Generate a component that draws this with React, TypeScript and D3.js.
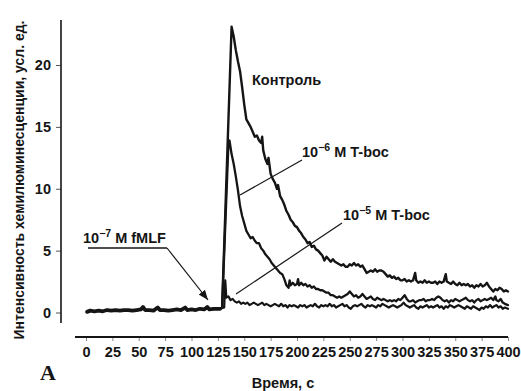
import React, { useEffect, useRef } from 'react';
import * as d3 from 'd3';

type Pt = [number, number];

// Axis ticks
const xTicks = [0, 25, 50, 75, 100, 125, 150, 175, 200, 225, 250, 275, 300, 325, 350, 375, 400];
const yTicks = [0, 5, 10, 15, 20];

// Common pre-stimulus baseline (s, units)
const baseline: Pt[] = [
  [1, 0.05], [4, 0.15], [8, 0.1], [12, 0.15], [16, 0.1], [20, 0.2], [24, 0.15], [28, 0.2],
  [32, 0.15], [36, 0.2], [40, 0.2], [44, 0.15], [48, 0.2], [52, 0.25], [54, 0.45], [56, 0.2],
  [60, 0.2], [64, 0.15], [68, 0.4], [70, 0.2], [74, 0.2], [78, 0.15], [82, 0.2], [86, 0.25],
  [90, 0.2], [94, 0.4], [96, 0.2], [100, 0.25], [104, 0.2], [108, 0.3], [112, 0.25], [115, 0.45],
  [117, 0.25], [121, 0.3], [124, 0.3], [127, 0.3]
];

// Control
const control: Pt[] = [
  [127, 0.3], [129, 0.4], [138, 23.1], [140, 22.3], [142, 21.2], [144, 20.3], [146, 19.5], [148, 18.2],
  [150, 16.8], [152, 15.6], [154, 15.3], [156, 15.0], [158, 14.6], [160, 14.2], [162, 14.3], [164, 13.9],
  [166, 13.7], [167, 14.2], [168, 13.1], [170, 12.4], [172, 12.0], [173, 12.5], [175, 11.2], [177, 10.8],
  [179, 10.5], [181, 10.0], [182, 10.3], [184, 9.4], [186, 9.1], [188, 8.7], [190, 8.2], [192, 7.9],
  [194, 7.5], [196, 7.3], [198, 7.0], [200, 6.9], [202, 6.6], [204, 6.4], [206, 6.1], [208, 5.9],
  [210, 5.6], [212, 5.7], [214, 5.3], [216, 5.4], [218, 5.1], [220, 5.0], [222, 4.8], [224, 4.6],
  [226, 4.2], [228, 4.5], [230, 4.3], [232, 4.1], [234, 4.3], [236, 4.1], [238, 4.0], [240, 3.9],
  [242, 3.8], [244, 3.9], [246, 3.7], [248, 3.7], [250, 3.9], [252, 3.8], [254, 4.0], [256, 3.8],
  [258, 3.9], [260, 3.7], [262, 3.8], [264, 3.5], [266, 3.2], [268, 3.3], [270, 3.4], [272, 3.3],
  [274, 3.5], [276, 3.3], [278, 3.4], [280, 3.4], [282, 3.3], [284, 3.1], [286, 2.9], [288, 3.0],
  [290, 2.8], [292, 2.9], [294, 2.7], [296, 2.8], [298, 2.6], [300, 2.6], [302, 2.7], [304, 2.5],
  [306, 2.6], [308, 2.5], [310, 2.6], [312, 3.2], [313, 2.6], [315, 2.4], [317, 2.5], [319, 2.4],
  [321, 2.6], [323, 2.4], [325, 2.5], [327, 2.4], [329, 2.4], [331, 2.5], [333, 2.3], [335, 2.5],
  [337, 2.4], [339, 2.5], [341, 3.1], [342, 2.5], [344, 2.4], [346, 2.3], [348, 2.5], [350, 2.3],
  [352, 2.2], [354, 2.4], [356, 2.2], [358, 2.3], [360, 2.2], [362, 2.3], [364, 2.1], [366, 2.2],
  [368, 2.0], [370, 2.2], [372, 2.1], [374, 2.3], [376, 2.1], [378, 2.2], [380, 2.4], [382, 2.1],
  [384, 1.9], [386, 1.7], [388, 1.9], [390, 1.8], [392, 2.0], [394, 1.9], [396, 1.7], [398, 1.8],
  [400, 1.7]
];

// 10^-6 M T-boc
const tboc6: Pt[] = [
  [127, 0.3], [129, 0.4], [135, 13.6], [136, 13.9], [138, 12.8], [140, 12.0], [142, 11.0], [144, 9.9],
  [146, 8.6], [148, 7.8], [150, 7.2], [152, 6.6], [154, 6.3], [156, 6.0], [158, 6.1], [160, 5.8],
  [162, 5.6], [164, 5.6], [166, 5.2], [168, 5.0], [170, 4.7], [172, 4.5], [174, 4.3], [176, 4.0],
  [178, 3.8], [180, 3.6], [182, 3.4], [184, 3.2], [186, 3.1], [188, 2.7], [190, 2.2], [192, 2.0],
  [193, 2.6], [194, 2.2], [196, 2.4], [198, 2.2], [200, 2.3], [201, 2.7], [202, 2.2], [204, 2.4],
  [206, 2.2], [208, 2.3], [210, 2.1], [212, 2.2], [214, 2.0], [216, 2.1], [218, 1.9], [220, 1.9],
  [222, 1.8], [224, 1.8], [226, 1.7], [228, 1.6], [230, 1.6], [232, 1.4], [234, 1.4], [236, 1.3],
  [238, 1.2], [240, 1.3], [242, 1.2], [244, 1.3], [246, 1.4], [248, 1.5], [250, 1.7], [252, 1.5],
  [254, 1.3], [256, 1.4], [258, 1.2], [260, 1.3], [262, 1.5], [264, 1.3], [266, 1.1], [268, 1.2],
  [270, 1.3], [272, 1.1], [274, 1.0], [276, 1.2], [278, 1.1], [280, 1.0], [282, 1.1], [284, 1.0],
  [286, 0.9], [288, 1.0], [290, 0.9], [292, 1.0], [294, 0.9], [296, 1.1], [298, 1.0], [300, 1.2],
  [302, 1.4], [304, 1.1], [306, 0.9], [308, 0.9], [310, 1.0], [312, 0.8], [314, 0.9], [316, 1.0],
  [318, 1.0], [320, 1.1], [322, 0.9], [324, 1.0], [326, 1.0], [328, 1.1], [330, 1.0], [332, 1.2],
  [334, 1.3], [336, 1.2], [338, 1.0], [340, 0.9], [342, 1.0], [344, 0.8], [346, 1.0], [348, 0.9],
  [350, 1.1], [352, 1.0], [354, 0.9], [356, 1.0], [358, 1.1], [360, 1.2], [362, 1.0], [364, 0.9],
  [366, 1.0], [368, 0.8], [370, 1.0], [372, 1.1], [374, 0.9], [376, 1.0], [378, 1.1], [380, 1.0],
  [382, 1.1], [384, 1.2], [386, 1.0], [388, 1.3], [389, 1.0], [391, 0.9], [393, 1.1], [395, 0.8],
  [397, 0.7], [400, 0.6]
];

// 10^-5 M T-boc
const tboc5: Pt[] = [
  [127, 0.3], [131, 0.4], [132, 2.6], [133, 1.2], [135, 1.3], [137, 1.0], [139, 1.1], [141, 0.9],
  [143, 0.8], [145, 0.9], [147, 0.7], [149, 0.8], [151, 0.7], [153, 0.8], [155, 0.6], [157, 0.7],
  [159, 0.8], [161, 0.7], [163, 0.6], [165, 0.7], [167, 0.8], [169, 0.6], [171, 0.7], [173, 0.6],
  [175, 0.5], [177, 0.6], [179, 0.7], [181, 0.6], [183, 0.5], [185, 0.7], [187, 0.5], [189, 0.6],
  [191, 0.4], [193, 0.6], [195, 0.5], [197, 0.6], [199, 0.5], [201, 0.4], [203, 0.6], [205, 0.5],
  [207, 0.6], [209, 0.4], [211, 0.5], [213, 0.6], [215, 0.5], [217, 0.7], [219, 0.5], [221, 0.4],
  [223, 0.6], [225, 0.5], [227, 0.6], [229, 0.5], [231, 0.7], [233, 0.5], [235, 0.6], [237, 0.4],
  [239, 0.5], [241, 0.6], [243, 0.7], [245, 0.5], [247, 0.6], [249, 0.4], [251, 0.3], [253, 0.5],
  [255, 0.6], [257, 0.5], [259, 0.6], [261, 0.7], [263, 0.5], [265, 0.4], [267, 0.6], [269, 0.5],
  [271, 0.6], [273, 0.5], [275, 0.4], [277, 0.6], [279, 0.5], [281, 0.7], [283, 0.6], [285, 0.5],
  [287, 0.4], [289, 0.5], [291, 0.6], [293, 0.5], [295, 0.4], [297, 0.5], [299, 0.6], [301, 0.8],
  [303, 0.6], [305, 0.5], [307, 0.4], [309, 0.5], [311, 0.6], [313, 0.4], [315, 0.3], [317, 0.5],
  [319, 0.4], [321, 0.5], [323, 0.6], [325, 0.4], [327, 0.5], [329, 0.4], [331, 0.5], [333, 0.6],
  [335, 0.4], [337, 0.5], [339, 0.3], [341, 0.5], [343, 0.4], [345, 0.6], [347, 0.5], [349, 0.4],
  [351, 0.5], [353, 0.6], [355, 0.5], [357, 0.4], [359, 0.3], [361, 0.5], [363, 0.4], [365, 0.3],
  [367, 0.5], [369, 0.4], [371, 0.3], [373, 0.2], [375, 0.4], [377, 0.3], [379, 0.5], [381, 0.4],
  [383, 0.6], [385, 0.4], [387, 0.5], [389, 0.6], [391, 0.4], [393, 0.5], [395, 0.3], [397, 0.4],
  [400, 0.3]
];

const INK = '#151515';
const FONT = '"Liberation Sans", Arial, Helvetica, sans-serif';

export default function App() {
  const ref = useRef<SVGSVGElement>(null);

  useEffect(() => {
    const svg = d3.select(ref.current);
    svg.selectAll('*').remove();

    // Scales
    const x = d3.scaleLinear().domain([0, 400]).range([86, 508]);
    const y = d3.scaleLinear().domain([0, 20]).range([312.5, 65]);

    // Arrow marker
    svg
      .append('defs')
      .append('marker')
      .attr('id', 'arrow')
      .attr('viewBox', '0 0 10 10')
      .attr('refX', 10)
      .attr('refY', 5)
      .attr('markerWidth', 10)
      .attr('markerHeight', 10)
      .attr('markerUnits', 'userSpaceOnUse')
      .attr('orient', 'auto')
      .append('path')
      .attr('d', 'M0,1 L10,5 L0,9 Z')
      .attr('fill', INK);

    // Y axis
    const yAxis = d3.axisLeft(y).tickValues(yTicks).tickSize(5).tickPadding(5);
    const yAxisDraw = svg.append('g').attr('transform', 'translate(61,0)').call(yAxis);
    yAxisDraw.select('.domain').remove();
    yAxisDraw.selectAll('line').attr('stroke', '#555');
    yAxisDraw
      .selectAll('text')
      .style('font-family', FONT)
      .style('font-size', '14.5px')
      .style('font-weight', 'bold')
      .attr('fill', INK);
    svg
      .append('line')
      .attr('x1', 61).attr('x2', 61)
      .attr('y1', 20).attr('y2', 323)
      .attr('stroke', INK)
      .attr('stroke-width', 1.6);

    // X axis
    const xAxis = d3.axisBottom(x).tickValues(xTicks).tickSize(4).tickPadding(6);
    const xAxisDraw = svg.append('g').attr('transform', 'translate(0,337)').call(xAxis);
    xAxisDraw.select('.domain').remove();
    xAxisDraw.selectAll('line').attr('stroke', '#888');
    xAxisDraw
      .selectAll('text')
      .style('font-family', FONT)
      .style('font-size', '14.5px')
      .style('font-weight', 'bold')
      .attr('fill', INK);
    svg
      .append('line')
      .attr('x1', 75).attr('x2', 508)
      .attr('y1', 337).attr('y2', 337)
      .attr('stroke', INK)
      .attr('stroke-width', 1.8);

    // Curves
    const line = d3
      .line<Pt>()
      .x(d => x(d[0]))
      .y(d => y(d[1]));

    const curves = svg.append('g').attr('fill', 'none').attr('stroke', INK)
      .attr('stroke-linejoin', 'round').attr('stroke-linecap', 'round');
    curves.append('path').attr('d', line(baseline)).attr('stroke-width', 3.8);
    curves.append('path').attr('d', line(tboc5)).attr('stroke-width', 2.2);
    curves.append('path').attr('d', line(tboc6)).attr('stroke-width', 2.3);
    curves.append('path').attr('d', line(control)).attr('stroke-width', 2.4);

    // Annotations
    const ann = svg.append('g')
      .style('font-family', FONT)
      .style('font-weight', 'bold')
      .attr('fill', INK);

    ann.append('text').attr('x', 252).attr('y', 85).style('font-size', '14.5px').text('Контроль');

    const label6 = ann.append('text').attr('x', 302).attr('y', 157).style('font-size', '14.5px');
    label6.append('tspan').text('10');
    label6.append('tspan').attr('dy', -6).style('font-size', '10.5px').text('−6');
    label6.append('tspan').attr('dy', 6).text(' M T-boc');

    const label5 = ann.append('text').attr('x', 343).attr('y', 220).style('font-size', '14.5px');
    label5.append('tspan').text('10');
    label5.append('tspan').attr('dy', -6).style('font-size', '10.5px').text('−5');
    label5.append('tspan').attr('dy', 6).text(' M T-boc');

    const label7 = ann.append('text').attr('x', 83).attr('y', 243).style('font-size', '14.5px');
    label7.append('tspan').text('10');
    label7.append('tspan').attr('dy', -6).style('font-size', '10.5px').text('−7');
    label7.append('tspan').attr('dy', 6).text(' M fMLF');

    const leaders = svg.append('g').attr('stroke', INK).attr('stroke-width', 1.2).attr('fill', 'none');
    leaders.append('line').attr('x1', 302).attr('y1', 160).attr('x2', 240).attr('y2', 195);
    leaders.append('line').attr('x1', 342).attr('y1', 223).attr('x2', 236).attr('y2', 294);
    leaders.append('line').attr('x1', 88).attr('y1', 248).attr('x2', 167).attr('y2', 248).attr('stroke-width', 1.6);
    leaders.append('line').attr('x1', 167).attr('y1', 248).attr('x2', 208).attr('y2', 300)
      .attr('marker-end', 'url(#arrow)');

    // Axis titles
    svg.append('text')
      .attr('x', 283).attr('y', 388)
      .attr('text-anchor', 'middle')
      .style('font-family', FONT).style('font-size', '14.5px').style('font-weight', 'bold')
      .attr('fill', INK)
      .text('Время, с');

    svg.append('text')
      .attr('transform', 'translate(24,180) rotate(-90)')
      .attr('text-anchor', 'middle')
      .style('font-family', FONT).style('font-size', '14px').style('font-weight', 'bold')
      .attr('fill', INK)
      .text('Интенсивность хемилюминесценции, усл. ед.');

    // Panel letter
    svg.append('text')
      .attr('x', 40).attr('y', 380)
      .style('font-family', '"Liberation Serif", "Times New Roman", serif')
      .style('font-size', '22px').style('font-weight', 'bold')
      .attr('fill', INK)
      .text('A');
  }, []);

  return (
    <svg
      ref={ref}
      width={521}
      height={391}
      style={{ position: 'absolute', left: 0, top: 0, background: '#fff' }}
    />
  );
}
